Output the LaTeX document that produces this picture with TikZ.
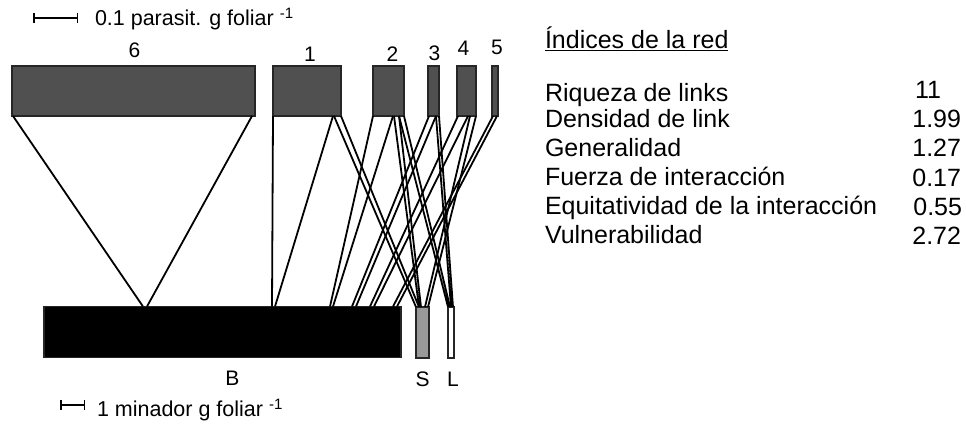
\documentclass[tikz,border=0pt]{standalone}
\usepackage{fontspec}
\setmainfont{Liberation Sans}
\usetikzlibrary{arrows}

\definecolor{grisosc}{RGB}{80,80,80}
\definecolor{grismed}{RGB}{153,153,153}

\begin{document}
\begin{tikzpicture}
	[x=1pt,y=-1pt,
	every node/.style={inner sep=0pt, outer sep=0pt},
	every label/.style={font=\fontsize{21}{23}\selectfont},
	parasit/.style={rectangle, draw=black!85, line width=1.2pt, fill=grisosc, minimum height=50pt},
	minador/.style={rectangle, draw=black!85, line width=1.2pt, minimum height=51pt},
	enlace/.style={line width=1.8pt},
	escala/.style={|-|, line width=1.5pt},
	leyenda/.style={anchor=west, font=\fontsize{21.5}{23}\selectfont},
	indice/.style={anchor=base west, font=\fontsize{25}{28}\selectfont}]
	\useasboundingbox (0,0) rectangle (966,423);
	
	% parasitoides
	\node[parasit, minimum width=243pt, label={[label distance=8pt, xshift=1pt]above:6}] (p6) at (133.5,91) {};
	\node[parasit, minimum width=68pt, label={[label distance=5pt, xshift=3pt]above:1}] (p1) at (307,91) {};
	\node[parasit, minimum width=31pt, label={[label distance=5pt, xshift=4pt]above:2}] (p2) at (388.5,91) {};
	\node[parasit, minimum width=11pt, label={[label distance=5pt, xshift=1pt]above:3}] (p3) at (433.5,91) {};
	\node[parasit, minimum width=19pt, label={[label distance=11pt, xshift=-3pt]above:4}] (p4) at (466.5,91) {};
	\node[parasit, minimum width=6pt, label={[label distance=11pt, xshift=2pt]above:5}] (p5) at (495,91) {};
	
	% minadores
	\node[minador, fill=black, minimum width=357pt, label={[label distance=14pt, xshift=10pt]below:B}] (B) at (222.5,332) {};
	\node[minador, fill=grismed, minimum width=13pt, label={[label distance=14pt]below:S}] (S) at (422.5,332.5) {};
	\node[minador, fill=white, minimum width=6pt, label={[label distance=14pt, xshift=2pt]below:L}] (L) at (451,332.5) {};
	
	% enlaces
	\draw[enlace] ([xshift=1pt]p6.south west) -- ([xshift=99pt]B.north west) ([xshift=240pt]p6.south west) -- ([xshift=103pt]B.north west);
	\draw[enlace] ([xshift=0pt]p1.south west) -- ([xshift=228pt]B.north west) ([xshift=60pt]p1.south west) -- ([xshift=231pt]B.north west);
	\draw[enlace] ([xshift=61pt]p1.south west) -- ([xshift=0pt]S.north west) ([xshift=68pt]p1.south west) -- ([xshift=3pt]S.north west);
	\draw[enlace] ([xshift=0pt]p2.south west) -- ([xshift=286pt]B.north west) ([xshift=20pt]p2.south west) -- ([xshift=289pt]B.north west);
	\draw[enlace] ([xshift=21pt]p2.south west) -- ([xshift=3pt]S.north west) ([xshift=26pt]p2.south west) -- ([xshift=5pt]S.north west);
	\draw[enlace] ([xshift=26pt]p2.south west) -- ([xshift=0pt]L.north west) ([xshift=31pt]p2.south west) -- ([xshift=2pt]L.north west);
	\draw[enlace] ([xshift=1pt]p3.south west) -- ([xshift=308pt]B.north west) ([xshift=8pt]p3.south west) -- ([xshift=312pt]B.north west);
	\draw[enlace] ([xshift=8pt]p3.south west) -- ([xshift=3pt]L.north west) ([xshift=11pt]p3.south west) -- ([xshift=5pt]L.north west);
	\draw[enlace] ([xshift=1pt]p4.south west) -- ([xshift=326pt]B.north west) ([xshift=11pt]p4.south west) -- ([xshift=330pt]B.north west);
	\draw[enlace] ([xshift=13pt]p4.south west) -- ([xshift=9pt]S.north west) ([xshift=19pt]p4.south west) -- ([xshift=12pt]S.north west);
	\draw[enlace] ([xshift=1pt]p5.south west) -- ([xshift=349pt]B.north west) ([xshift=5pt]p5.south west) -- ([xshift=353pt]B.north west);
	
	% escalas
	\coordinate (e1a) at (33,18);
	\coordinate (e1b) at (78,18);
	\draw[escala] (e1a) -- (e1b);
	\node[leyenda] (t1) at (95,19) {0.1 parasit. g foliar \textsuperscript{-1}};
	\coordinate (e2a) at (60,405);
	\coordinate (e2b) at (85,405);
	\draw[escala] (e2a) -- (e2b);
	\node[leyenda] (t2) at (97,410) {1 minador g foliar \textsuperscript{-1}};
	
	% indices de la red
	\node[indice, anchor=west] (tit) at (545,39) {\underline{Índices de la red}};
	\node[indice] (r1) at (545,101) {Riqueza de links};
	\node[indice] (r2) at (545,127) {Densidad de link};
	\node[indice] (r3) at (545,156) {Generalidad};
	\node[indice] (r4) at (545,185) {Fuerza de interacción};
	\node[indice] (r5) at (545,214) {Equitatividad de la interacción};
	\node[indice] (r6) at (545,243) {Vulnerabilidad};
	\node[indice] (v1) at (915,98) {11};
	\node[indice, anchor=base east] (v2) at (961,127) {1.99};
	\node[indice, anchor=base east] (v3) at (961,156) {1.27};
	\node[indice, anchor=base east] (v4) at (961,186) {0.17};
	\node[indice, anchor=base east] (v5) at (962,215) {0.55};
	\node[indice, anchor=base east] (v6) at (961,244) {2.72};
\end{tikzpicture}
\end{document}
